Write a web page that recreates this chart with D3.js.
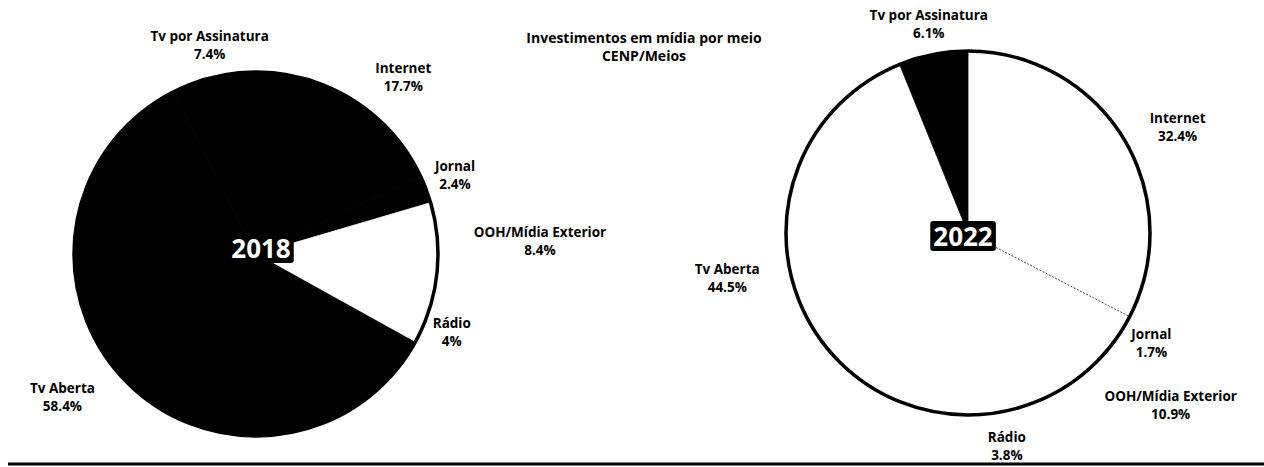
<!DOCTYPE html>
<html>
<head>
<meta charset="utf-8">
<script src="https://cdn.jsdelivr.net/npm/d3@7"></script>
<style>
  body { margin: 0; background: #fff; }
  text { font-family: "Open Sans", sans-serif; font-weight: 700; fill: #000; }
</style>
</head>
<body>
<div id="chart"></div>
<script>
// data
const categories = ["Internet", "Jornal", "OOH/Mídia Exterior", "Rádio", "Tv Aberta", "Tv por Assinatura"];
const values2018 = [17.7, 2.4, 8.4, 4, 58.4, 7.4];
const values2022 = [32.4, 1.7, 10.9, 3.8, 44.5, 6.1];
const years = ["2018", "2022"];
const titleLines = ["Investimentos em mídia por meio", "CENP/Meios"];

const width = 1264, height = 467;
const radius = 182;

const svg = d3.select("#chart")
              .append("svg")
              .attr("width", width)
              .attr("height", height);

// per pie layout (scan is black & white, so slices are black or white)
const charts = [
  {
    year: years[0], values: values2018, cx: 256, cy: 254,
    fills: ["#000", "#000", "#fff", "#fff", "#000", "#000"],
    nudges: [[32, 5], [-2, -3], [69, -9], [-4, -1], [-39, -6], [4, 0]],
    badge: [5, -6],
    divider: null
  },
  {
    year: years[1], values: values2022, cx: 968, cy: 233,
    fills: ["#fff", "#fff", "#fff", "#fff", "#fff", "#000"],
    nudges: [[26, 6], [-2, 1], [74, 0], [1, 1], [-31, -2], [2, 2]],
    badge: [-5, 3],
    divider: 0
  }
];

const pie = d3.pie().sort(null).value(d => d);
const arc = d3.arc().innerRadius(0).outerRadius(radius);
const labelArc = d3.arc().innerRadius(215).outerRadius(215);

charts.forEach(c => {
  const g = svg.append("g")
               .attr("transform", `translate(${c.cx},${c.cy})`);
  const arcs = pie(c.values);

  g.selectAll("path.slice")
   .data(arcs)
   .enter()
   .append("path")
   .attr("class", "slice")
   .attr("d", arc)
   .attr("fill", (d, i) => c.fills[i])
   .attr("stroke", (d, i) => c.fills[i])
   .attr("stroke-width", 0.8);

  if (c.divider !== null) {
    const a = arcs[c.divider].endAngle;
    g.append("line")
     .attr("x1", 0).attr("y1", 0)
     .attr("x2", Math.sin(a) * radius)
     .attr("y2", -Math.cos(a) * radius)
     .attr("stroke", "#444")
     .attr("stroke-width", 1)
     .attr("stroke-dasharray", "2,1.5");
  }

  g.append("circle")
   .attr("r", radius)
   .attr("fill", "none")
   .attr("stroke", "#000")
   .attr("stroke-width", 3.5);

  // slice labels
  const labels = g.selectAll("g.label")
                  .data(arcs)
                  .enter()
                  .append("g")
                  .attr("class", "label")
                  .attr("transform", (d, i) => {
                    const p = labelArc.centroid(d);
                    return `translate(${p[0] + c.nudges[i][0]},${p[1] + c.nudges[i][1]})`;
                  });
  labels.append("text")
        .attr("text-anchor", "middle")
        .attr("y", -9)
        .attr("dominant-baseline", "central")
        .style("font-size", "13.5px")
        .text((d, i) => categories[i]);
  labels.append("text")
        .attr("text-anchor", "middle")
        .attr("y", 9)
        .attr("dominant-baseline", "central")
        .style("font-size", "13.5px")
        .text(d => d.data + "%");

  // year badge
  const yg = g.append("g").attr("transform", `translate(${c.badge[0]},${c.badge[1]})`);
  const rect = yg.append("rect");
  const yt = yg.append("text")
               .attr("text-anchor", "middle")
               .attr("dominant-baseline", "central")
               .style("font-size", "26px")
               .style("fill", "#fff")
               .text(c.year);
  const bb = yt.node().getBBox();
  rect.attr("x", bb.x - 3)
      .attr("y", bb.y + 3)
      .attr("width", bb.width + 6)
      .attr("height", bb.height - 6)
      .attr("rx", 3)
      .attr("fill", "#000");
});

// title
svg.selectAll("text.title")
   .data(titleLines)
   .enter()
   .append("text")
   .attr("class", "title")
   .attr("x", 644)
   .attr("y", (d, i) => 37 + i * 18)
   .attr("text-anchor", "middle")
   .attr("dominant-baseline", "central")
   .style("font-size", "14px")
   .text(d => d);

// bottom rule
svg.append("line")
   .attr("x1", 8).attr("x2", width)
   .attr("y1", 464).attr("y2", 464)
   .attr("stroke", "#000")
   .attr("stroke-width", 3);
</script>
</body>
</html>
